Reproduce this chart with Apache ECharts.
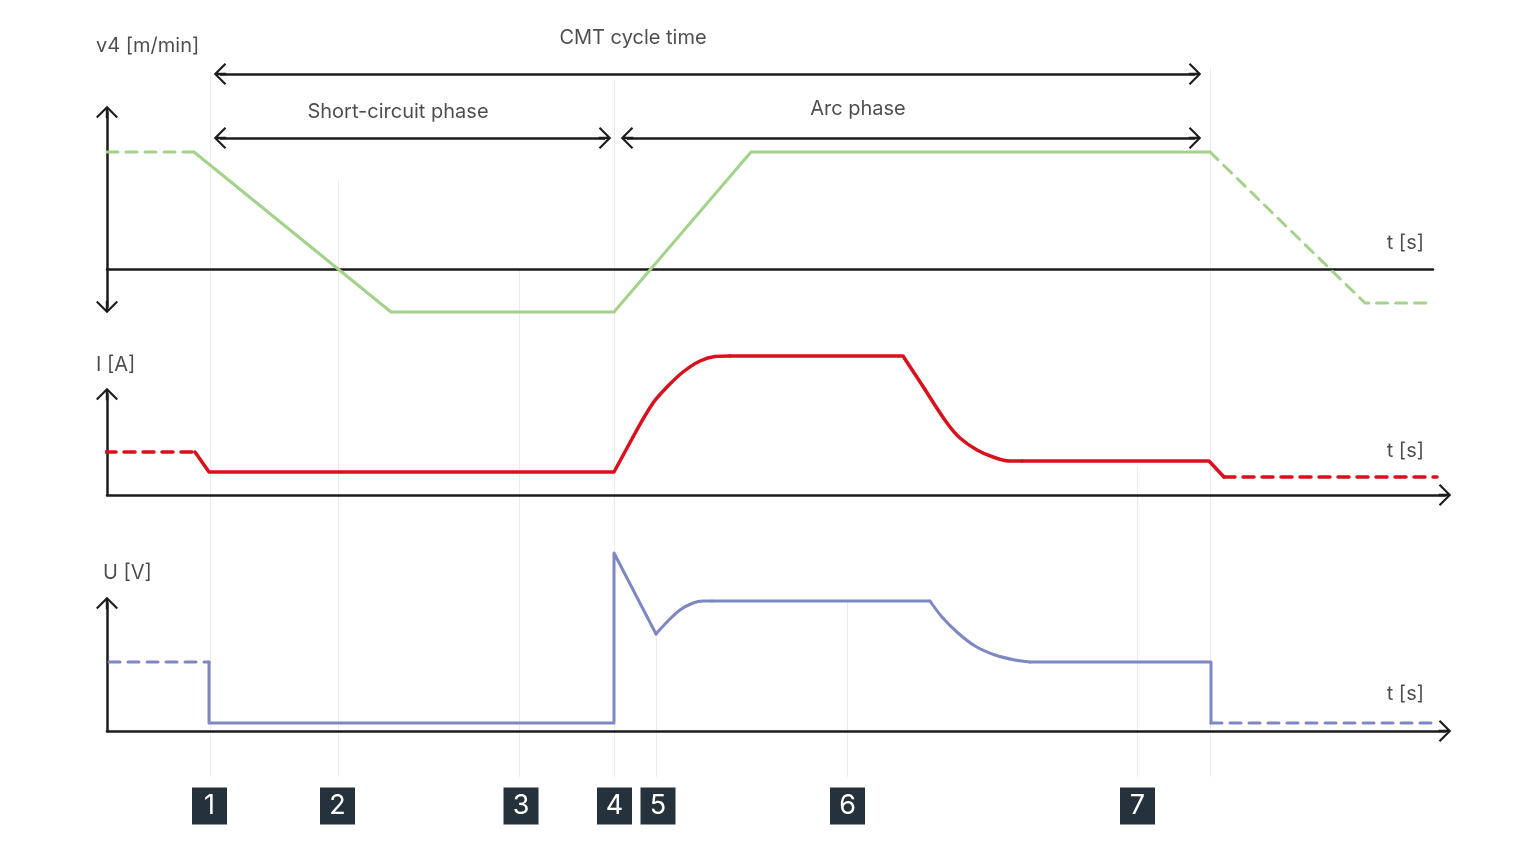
<!DOCTYPE html>
<html>
<head>
<meta charset="utf-8">
<title>CMT cycle</title>
<script src="https://cdn.jsdelivr.net/npm/echarts@6/dist/echarts.min.js"></script>
<style>
  html, body { margin: 0; padding: 0; background: #fff; }
  #chart { width: 1540px; height: 866px; }
</style>
</head>
<body>
<div id="chart"></div>
<script>
// t is in arbitrary time steps, all three panels share the same t scale
// curved stretches are kept in their own arrays and drawn smoothed

// wire speed v4 (panel 1)
var v4Before = [[0, 11.7], [8.7, 11.7]];
var v4Cycle = [[8.7, 11.7], [28.4, -4.3], [50.7, -4.3], [64.4, 11.7], [110.3, 11.7]];
var v4After = [[110.3, 11.7], [125.8, -3.4], [132.3, -3.4]];

// current I (panel 2)
var iBefore = [[-0.2, 4.3], [8.8, 4.3]];
var iDrop = [[8.8, 4.3], [10.2, 2.3], [50.7, 2.3], [52.6, 5.8]];
var iRise = [[52.6, 5.8], [54.6, 9.2], [56.0, 10.8], [57.6, 12.3], [59.3, 13.4], [60.8, 13.85], [62.3, 13.9]];
var iHigh = [[62.3, 13.9], [79.6, 13.9], [81.8, 10.55]];
var iFall = [[81.8, 10.55], [84.0, 7.2], [85.3, 5.7], [87.0, 4.5], [88.6, 3.8], [90.3, 3.4], [91.5, 3.4]];
var iLow = [[91.5, 3.4], [110.2, 3.4], [111.7, 1.8]];
var iAfter = [[111.7, 1.8], [133.0, 1.8]];

// voltage U (panel 3)
var uBefore = [[0.2, 6.9], [10.2, 6.9]];
var uShort = [[10.2, 6.9], [10.2, 0.8], [50.7, 0.8], [50.7, 17.8], [54.9, 9.7]];
var uRecover = [[54.9, 9.7], [56.0, 10.9], [57.3, 12.1], [58.6, 12.8], [59.6, 13.0], [60.5, 13.0]];
var uHigh = [[60.5, 13.0], [82.3, 13.0]];
var uFall = [[82.3, 13.0], [83.5, 11.4], [85.1, 9.8], [86.8, 8.5], [88.8, 7.6], [90.8, 7.1], [92.3, 6.9]];
var uLow = [[92.3, 6.9], [110.4, 6.9], [110.4, 0.8]];
var uAfter = [[110.4, 0.8], [133.0, 0.8]];

// phase markers 1..7 and the guide lines (t, top of the guide in panel 3 units)
var markerLabels = ['1', '2', '3', '4', '5', '6', '7'];
var markerTimes = [10.25, 23.05, 41.4, 50.75, 55.1, 74.05, 103.05];
var guideTimes = [10.3, 23.1, 41.2, 50.7, 54.9, 74.0, 103.0, 110.3];
var guideTops = [65.9, 55.1, 46.1, 65.1, 10.1, 13.1, 26.6, 66.3];

// span arrows above panel 1: [from, to, level, label, labelT, labelLevel]
var spans = [
    [11.3, 108.8, 19.5, 'CMT cycle time', 52.6, 23.1],
    [11.3, 49.8, 13.1, 'Short-circuit phase', 29.1, 15.7],
    [52.0, 108.8, 13.1, 'Arc phase', 75.1, 16.0]
];

var GREEN = '#a4d18b';
var RED = '#d8111c';
var BLUE = '#7f87c2';
var INK = '#1c1c1c';
var FONT = 'Inter, "Noto Sans", sans-serif';
var CHEVRON = 'path://M11,0L22,11L20.5,12.5L11,3L1.5,12.5L0,11ZM9.8,1L12.2,1L12.2,12.5L9.8,12.5Z';

var chart = echarts.init(document.getElementById('chart'));

function axisX(gridIndex, max, arrow) {
    return {
        type: 'value', gridIndex: gridIndex, min: 0, max: max, z: 3,
        axisLine: {
            show: true, onZero: true,
            symbol: arrow ? ['none', CHEVRON] : ['none', 'none'],
            symbolSize: [22, 12.5],
            lineStyle: { color: INK, width: 2.5 }
        },
        axisTick: { show: false }, axisLabel: { show: false }, splitLine: { show: false }
    };
}

function axisY(gridIndex, min, max, both) {
    return {
        type: 'value', gridIndex: gridIndex, min: min, max: max, z: 3,
        axisLine: {
            show: true, onZero: true,
            symbol: both ? [CHEVRON, CHEVRON] : ['none', CHEVRON],
            symbolSize: [22, 12.5],
            lineStyle: { color: INK, width: 2.5 }
        },
        axisTick: { show: false }, axisLabel: { show: false }, splitLine: { show: false }
    };
}

function curve(idx, data, color, dashed, width, smooth) {
    return {
        type: 'line', xAxisIndex: idx, yAxisIndex: idx, data: data, z: 5,
        symbol: 'none', showSymbol: false, clip: false, silent: true,
        smooth: smooth ? 0.35 : false,
        lineStyle: {
            color: color, width: width,
            type: dashed ? [11, 8] : 'solid',
            cap: 'round', join: 'round'
        }
    };
}

function texts(idx, items) {
    return {
        type: 'scatter', xAxisIndex: idx, yAxisIndex: idx, clip: false, silent: true, z: 6,
        symbolSize: 1, itemStyle: { color: 'rgba(0,0,0,0)' },
        data: items.map(function (d) {
            return {
                value: [d[1], d[2]],
                label: {
                    show: true, position: 'inside', formatter: d[0], align: d[3] || 'center',
                    verticalAlign: 'middle', color: '#1f1f1f', fontSize: 20, fontFamily: FONT
                }
            };
        })
    };
}

var option = {
    animation: false,
    backgroundColor: '#ffffff',
    grid: [
        { left: 107, top: 112, width: 1326, height: 195 },
        { left: 107, top: 394, width: 1338, height: 101 },
        { left: 107, top: 603, width: 1338, height: 128 }
    ],
    xAxis: [axisX(0, 132.6, false), axisX(1, 133.8, true), axisX(2, 133.8, true)],
    yAxis: [axisY(0, -3.8, 15.7, true), axisY(1, 0, 10.1, false), axisY(2, 0, 12.8, false)],
    series: [
        {
            type: 'lines', coordinateSystem: 'cartesian2d', xAxisIndex: 2, yAxisIndex: 2,
            clip: false, silent: true, z: 1, symbol: 'none',
            lineStyle: { color: '#ebebeb', width: 1, opacity: 1 },
            data: guideTimes.map(function (t, i) {
                return { coords: [[t, -4.6], [t, guideTops[i]]] };
            })
        },
        curve(0, v4Before, GREEN, true, 3),
        curve(0, v4Cycle, GREEN, false, 3),
        curve(0, v4After, GREEN, true, 3),
        curve(1, iBefore, RED, true, 3.5),
        curve(1, iDrop, RED, false, 3.5),
        curve(1, iRise, RED, false, 3.5, true),
        curve(1, iHigh, RED, false, 3.5),
        curve(1, iFall, RED, false, 3.5, true),
        curve(1, iLow, RED, false, 3.5),
        curve(1, iAfter, RED, true, 3.5),
        curve(2, uBefore, BLUE, true, 3),
        curve(2, uShort, BLUE, false, 3),
        curve(2, uRecover, BLUE, false, 3, true),
        curve(2, uHigh, BLUE, false, 3),
        curve(2, uFall, BLUE, false, 3, true),
        curve(2, uLow, BLUE, false, 3),
        curve(2, uAfter, BLUE, true, 3),
        {
            type: 'lines', coordinateSystem: 'cartesian2d', xAxisIndex: 0, yAxisIndex: 0,
            clip: false, silent: true, z: 4,
            symbol: [CHEVRON, CHEVRON], symbolSize: [[22, 12.5], [22, 12.5]], symbolKeepAspect: true,
            itemStyle: { color: INK },
            lineStyle: { color: INK, width: 2.5, opacity: 1 },
            data: spans.map(function (s) {
                return { coords: [[s[0], s[2]], [s[1], s[2]]] };
            })
        },
        texts(0, spans.map(function (s) { return [s[3], s[4], s[5]]; })
            .concat([['v4 [m/min]', -1.1, 22.3, 'left'], ['t [s]', 131.7, 2.6, 'right']])),
        texts(1, [['I [A]', -1.1, 13.0, 'left'], ['t [s]', 131.7, 4.4, 'right']]),
        texts(2, [['U [V]', -0.4, 15.8, 'left'], ['t [s]', 131.7, 3.7, 'right']]),
        {
            type: 'scatter', xAxisIndex: 2, yAxisIndex: 2, clip: false, silent: true, z: 6,
            symbol: 'rect', symbolSize: [35, 37],
            itemStyle: { color: '#25323b', opacity: 1 },
            label: {
                show: true, position: 'inside', color: '#ffffff', fontSize: 27,
                fontFamily: FONT, formatter: function (p) { return p.name; }
            },
            data: markerTimes.map(function (t, i) {
                return { name: markerLabels[i], value: [t, -7.5] };
            })
        }
    ]
};

chart.setOption(option);
</script>
</body>
</html>
